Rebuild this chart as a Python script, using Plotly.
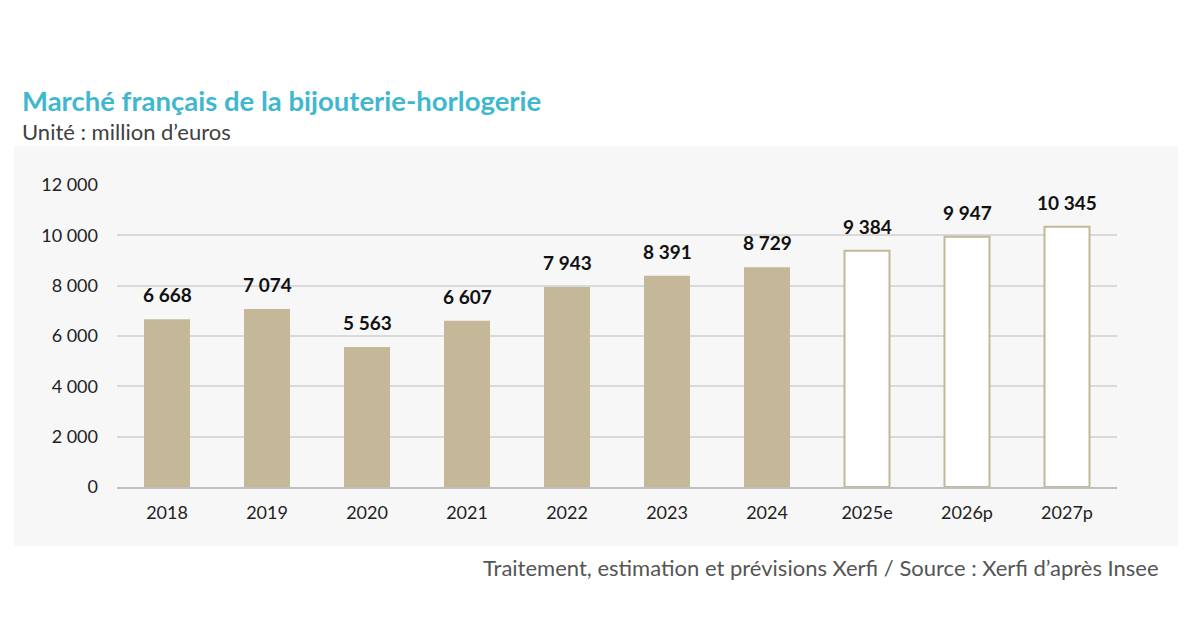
import plotly.graph_objects as go

years_hist = ["2018", "2019", "2020", "2021", "2022", "2023", "2024"]
values_hist = [6668, 7074, 5563, 6607, 7943, 8391, 8729]
years_fc = ["2025e", "2026p", "2027p"]
values_fc = [9384, 9947, 10345]
labels_hist = ["6 668", "7 074", "5 563", "6 607", "7 943", "8 391", "8 729"]
labels_fc = ["9 384", "9 947", "10 345"]
y_ticks = [0, 2000, 4000, 6000, 8000, 10000, 12000]

BAR = "#c4b898"
FONT = "Lato, 'Open Sans', sans-serif"

L, R, T, B = 117, 1117, 185, 487
W, H = 1200, 630

def px_x(p):
    return (p - L) / (R - L)

def px_y(p):
    return (B - p) / (B - T)

categories = years_hist + years_fc

fig = go.Figure()
fig.add_trace(go.Bar(x=years_hist, y=values_hist, width=0.46,
                     marker=dict(color=BAR, line=dict(width=0)),
                     hoverinfo="skip"))
fig.add_trace(go.Bar(x=years_fc, y=values_fc, width=0.45,
                     marker=dict(color="white", line=dict(color=BAR, width=2)),
                     hoverinfo="skip"))

annotations = []
for i, (v, t) in enumerate(zip(values_hist + values_fc, labels_hist + labels_fc)):
    annotations.append(dict(x=i, y=v, text="<b>" + t + "</b>", showarrow=False, yanchor="bottom",
                            yshift=11, font=dict(size=19, color="#111", family=FONT)))

annotations += [
    dict(xref="paper", yref="paper", x=px_x(20), y=px_y(101), xanchor="left", yanchor="middle",
         text="<b>Marché français de la bijouterie-horlogerie</b>", showarrow=False,
         font=dict(size=27.5, color="#3fb8cf", family=FONT)),
    dict(xref="paper", yref="paper", x=px_x(20), y=px_y(131), xanchor="left", yanchor="middle",
         text="Unité : million d’euros", showarrow=False,
         font=dict(size=22, color="#404040", family=FONT)),
    dict(xref="paper", yref="paper", x=px_x(1161), y=px_y(567), xanchor="right", yanchor="middle",
         text="Traitement, estimation et prévisions Xerfi / Source : Xerfi d’après Insee",
         showarrow=False, font=dict(size=22, color="#555555", family=FONT)),
]

fig.update_layout(
    width=W, height=H,
    margin=dict(l=L, r=W - R, t=T, b=H - B, pad=0),
    paper_bgcolor="white",
    plot_bgcolor="rgba(0,0,0,0)",
    barmode="overlay",
    showlegend=False,
    separators=", ",
    font=dict(family=FONT, size=16, color="#222"),
    xaxis=dict(type="category", categoryorder="array", categoryarray=categories,
               range=[-0.5, len(categories) - 0.5],
               showline=True, linecolor="#bfbfbf", linewidth=2, ticks="",
               tickfont=dict(size=18, color="#222"), ticklabelstandoff=8,
               showgrid=False, fixedrange=True),
    yaxis=dict(range=[0, 12000], tickvals=y_ticks, tickformat=",d",
               showgrid=True, gridcolor="#d9d9d9", gridwidth=1.5, zeroline=False,
               ticks="", tickfont=dict(size=18, color="#222"), ticklabelstandoff=18,
               fixedrange=True),
    shapes=[dict(type="rect", xref="paper", yref="paper",
                 x0=px_x(14), x1=px_x(1178), y0=px_y(546), y1=px_y(146),
                 fillcolor="#f7f7f7", line=dict(width=0), layer="below")],
    annotations=annotations,
)

fig.write_html("out.html", post_script="document.body.style.margin='0';",
               config={"displayModeBar": False})
